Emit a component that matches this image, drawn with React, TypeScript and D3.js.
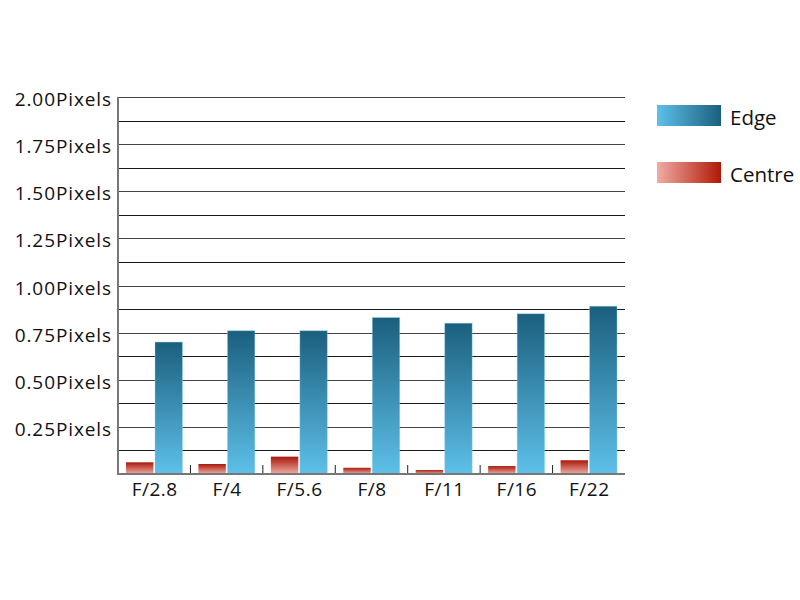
import React from "react";
import * as d3 from "d3";

const categories = ["F/2.8", "F/4", "F/5.6", "F/8", "F/11", "F/16", "F/22"];
const centreValues = [0.062, 0.053, 0.092, 0.033, 0.021, 0.042, 0.073];
const edgeValues = [0.7, 0.76, 0.76, 0.83, 0.8, 0.85, 0.89];
const tickValues = [0.25, 0.5, 0.75, 1.0, 1.25, 1.5, 1.75, 2.0];
const gridValues = [0.125, 0.25, 0.375, 0.5, 0.625, 0.75, 0.875, 1.0, 1.125, 1.25, 1.375, 1.5, 1.625, 1.75, 1.875, 2.0];
const seriesNames = ["Edge", "Centre"];

const FONT = "'Open Sans', 'Noto Sans', sans-serif";

export default function App() {
  const left = 118, right = 625, top = 97, bottom = 474;
  const x = d3.scaleBand<string>().domain(categories).range([left, right]).padding(0);
  const y = d3.scaleLinear().domain([0, 2]).range([bottom, top]);
  const bw = x.bandwidth();
  const inner = d3.scaleBand<string>().domain(["c", "e"]).range([8, bw - 8]).paddingInner(0.055);

  return (
    <svg width={800} height={600} style={{ position: "absolute", left: 0, top: 0, background: "#fff" }}>
      <defs>
        <linearGradient id="edgeV" x1="0" y1="0" x2="0" y2="1">
          <stop offset="0" stopColor="#1b5f7e" />
          <stop offset="1" stopColor="#5ec0e9" />
        </linearGradient>
        <linearGradient id="centreV" x1="0" y1="0" x2="0" y2="1">
          <stop offset="0" stopColor="#a9180a" />
          <stop offset="1" stopColor="#f0aca4" />
        </linearGradient>
        <linearGradient id="edgeH" x1="0" y1="0" x2="1" y2="0">
          <stop offset="0" stopColor="#5ec0e9" />
          <stop offset="1" stopColor="#1b5f7e" />
        </linearGradient>
        <linearGradient id="centreH" x1="0" y1="0" x2="1" y2="0">
          <stop offset="0" stopColor="#f0aca4" />
          <stop offset="1" stopColor="#b01806" />
        </linearGradient>
      </defs>

      {gridValues.map((v, i) => (
        <line key={v} x1={left} x2={right} y1={Math.round(y(v)) + 0.5} y2={Math.round(y(v)) + 0.5}
          stroke={i % 2 === 0 ? "#1a1a1a" : "#444"} strokeWidth={1.2} />
      ))}

      {tickValues.map((v) => (
        <text key={v} x={112} y={y(v) + 9} textAnchor="end" fontFamily={FONT} fontSize={19}
          letterSpacing={0.9} fill="#111">
          {v.toFixed(2)}Pixels
        </text>
      ))}

      {categories.slice(1).map((c) => (
        <line key={c} x1={x(c)!} x2={x(c)!} y1={bottom} y2={bottom - 9} stroke="#222" strokeWidth={1} />
      ))}

      {categories.map((c, i) => (
        <g key={c}>
          <rect x={x(c)! + inner("c")!} width={inner.bandwidth()} y={y(centreValues[i])}
            height={bottom - y(centreValues[i])} fill="url(#centreV)" />
          <rect x={x(c)! + inner("e")!} width={inner.bandwidth()} y={y(edgeValues[i])}
            height={bottom - y(edgeValues[i])} fill="url(#edgeV)" stroke="#8fd3f0" strokeOpacity={0.5} strokeWidth={0.8} />
          <text x={x(c)! + bw / 2 + 0.5} y={496} textAnchor="middle" fontFamily={FONT} fontSize={19}
            letterSpacing={0.5} fill="#111">{c}</text>
        </g>
      ))}

      <line x1={left} x2={left} y1={top} y2={bottom + 1} stroke="#777" strokeWidth={2} />
      <line x1={left - 1} x2={right} y1={bottom} y2={bottom} stroke="#777" strokeWidth={2} />

      <rect x={657} y={105} width={64} height={21} fill="url(#edgeH)" />
      <text x={730} y={125} fontFamily={FONT} fontSize={20.5} fill="#111">{seriesNames[0]}</text>
      <rect x={657} y={162} width={64} height={21} fill="url(#centreH)" />
      <text x={730} y={181.5} fontFamily={FONT} fontSize={20.5} fill="#111">{seriesNames[1]}</text>
    </svg>
  );
}
